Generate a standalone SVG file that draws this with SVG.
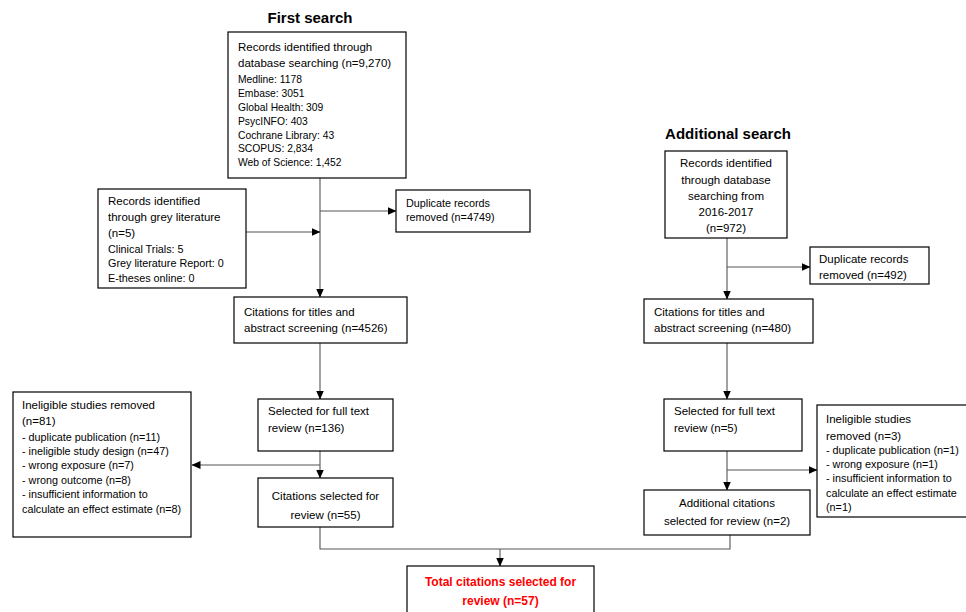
<svg xmlns="http://www.w3.org/2000/svg" width="966" height="612" viewBox="0 0 966 612">
<defs>
<marker id="ah" markerUnits="userSpaceOnUse" markerWidth="9" markerHeight="8" refX="8.5" refY="4" orient="auto">
<path d="M0,0 L9,4 L0,8 Z" fill="#000"/>
</marker>
<style>
.box{fill:#fff;stroke:#000;stroke-width:1.2}
.t{font-family:"Liberation Sans",Arial,sans-serif;font-size:11.5px;fill:#000}
.s{font-family:"Liberation Sans",Arial,sans-serif;font-size:10.3px;fill:#000}
.s2{font-family:"Liberation Sans",Arial,sans-serif;font-size:10.8px;fill:#000}
.h{font-family:"Liberation Sans",Arial,sans-serif;font-size:15px;font-weight:bold;fill:#000}
.c{text-anchor:middle}
.red{font-family:"Liberation Sans",Arial,sans-serif;font-size:12px;font-weight:bold;fill:#ff0000;text-anchor:middle}
.ln{fill:none;stroke:#555;stroke-width:1.1}
.ar{fill:none;stroke:#555;stroke-width:1.1;marker-end:url(#ah)}
</style>
</defs>
<rect width="966" height="612" fill="#fff"/>
<text class="h c" x="310" y="23">First search</text>
<text class="h c" x="728" y="139">Additional search</text>

<g id="connectors">
<line class="ar" x1="320" y1="178" x2="320" y2="297"/>
<line class="ar" x1="320" y1="211" x2="396" y2="211"/>
<line class="ar" x1="246" y1="232" x2="320" y2="232"/>
<line class="ar" x1="320" y1="343" x2="320" y2="399"/>
<line class="ar" x1="320" y1="451" x2="320" y2="478"/>
<line class="ar" x1="320" y1="465" x2="192" y2="465"/>
<polyline class="ln" points="320,527 320,549 730,549 730,535"/>
<line class="ar" x1="500" y1="549" x2="500" y2="566"/>
<line class="ar" x1="727" y1="238" x2="727" y2="299"/>
<line class="ar" x1="727" y1="267" x2="810" y2="267"/>
<line class="ar" x1="727" y1="343" x2="727" y2="399"/>
<line class="ar" x1="727" y1="451" x2="727" y2="490"/>
<line class="ar" x1="727" y1="470" x2="817" y2="470"/>
</g>

<g id="db-records">
<rect class="box" x="228" y="32" width="178" height="146"/>
<text class="t" x="238" y="51">Records identified through</text>
<text class="t" x="238" y="67">database searching (n=9,270)</text>
<text class="s" x="238" y="83">Medline: 1178</text>
<text class="s" x="238" y="97">Embase: 3051</text>
<text class="s" x="238" y="111">Global Health: 309</text>
<text class="s" x="238" y="125">PsycINFO: 403</text>
<text class="s" x="238" y="139">Cochrane Library: 43</text>
<text class="s" x="238" y="152">SCOPUS: 2,834</text>
<text class="s" x="238" y="166">Web of Science: 1,452</text>
</g>

<g id="grey-lit">
<rect class="box" x="98" y="189" width="148" height="99"/>
<text class="t" x="108" y="205">Records identified</text>
<text class="t" x="108" y="221">through grey literature</text>
<text class="t" x="108" y="237">(n=5)</text>
<text class="s2" x="108" y="253">Clinical Trials: 5</text>
<text class="s2" x="108" y="267">Grey literature Report: 0</text>
<text class="s2" x="108" y="282">E-theses online: 0</text>
</g>

<g id="dup-1">
<rect class="box" x="396" y="190" width="134" height="42"/>
<text class="s2" x="406" y="207">Duplicate records</text>
<text class="s2" x="406" y="221">removed (n=4749)</text>
</g>

<g id="screen-1">
<rect class="box" x="234" y="297" width="173" height="46"/>
<text class="t" x="244" y="316">Citations for titles and</text>
<text class="t" x="244" y="332">abstract screening (n=4526)</text>
</g>

<g id="fulltext-1">
<rect class="box" x="258" y="399" width="135" height="52"/>
<text class="t" x="268" y="415">Selected for full text</text>
<text class="t" x="268" y="432">review (n=136)</text>
</g>

<g id="inelig-1">
<rect class="box" x="13" y="392" width="178" height="145"/>
<text class="t" x="22" y="409">Ineligible studies removed</text>
<text class="t" x="22" y="425">(n=81)</text>
<text class="s2" x="22" y="441">- duplicate publication (n=11)</text>
<text class="s2" x="22" y="455">- ineligible study design (n=47)</text>
<text class="s2" x="22" y="469">- wrong exposure (n=7)</text>
<text class="s2" x="22" y="484">- wrong outcome (n=8)</text>
<text class="s2" x="22" y="498">- insufficient information to</text>
<text class="s2" x="22" y="513">calculate an effect estimate (n=8)</text>
</g>

<g id="selected-1">
<rect class="box" x="258" y="478" width="135" height="49"/>
<text class="t c" x="325.5" y="500">Citations selected for</text>
<text class="t c" x="325.5" y="519">review (n=55)</text>
</g>

<g id="total">
<rect class="box" x="407" y="566" width="187" height="56"/>
<text class="red" x="500.5" y="586">Total citations selected for</text>
<text class="red" x="500.5" y="605">review (n=57)</text>
</g>

<g id="db-records-2">
<rect class="box" x="665" y="151" width="122" height="87"/>
<text class="t c" x="726" y="167">Records identified</text>
<text class="t c" x="726" y="184">through database</text>
<text class="t c" x="726" y="200">searching from</text>
<text class="t c" x="726" y="216">2016-2017</text>
<text class="t c" x="726" y="232">(n=972)</text>
</g>

<g id="dup-2">
<rect class="box" x="810" y="247" width="119" height="37"/>
<text class="t" x="819" y="263">Duplicate records</text>
<text class="t" x="819" y="279">removed (n=492)</text>
</g>

<g id="screen-2">
<rect class="box" x="644" y="299" width="169" height="44"/>
<text class="t" x="654" y="316">Citations for titles and</text>
<text class="t" x="654" y="332">abstract screening (n=480)</text>
</g>

<g id="fulltext-2">
<rect class="box" x="664" y="399" width="138" height="52"/>
<text class="t" x="674" y="415">Selected for full text</text>
<text class="t" x="674" y="432">review (n=5)</text>
</g>

<g id="inelig-2">
<rect class="box" x="817" y="405" width="160" height="112"/>
<text class="t" x="826" y="423">Ineligible studies</text>
<text class="t" x="826" y="440">removed (n=3)</text>
<text class="s2" x="826" y="454">- duplicate publication (n=1)</text>
<text class="s2" x="826" y="468">- wrong exposure (n=1)</text>
<text class="s2" x="826" y="482">- insufficient information to</text>
<text class="s2" x="826" y="497">calculate an effect estimate</text>
<text class="s2" x="826" y="511">(n=1)</text>
</g>

<g id="selected-2">
<rect class="box" x="644" y="490" width="166" height="45"/>
<text class="t c" x="727" y="507">Additional citations</text>
<text class="t c" x="727" y="525">selected for review (n=2)</text>
</g>
</svg>
